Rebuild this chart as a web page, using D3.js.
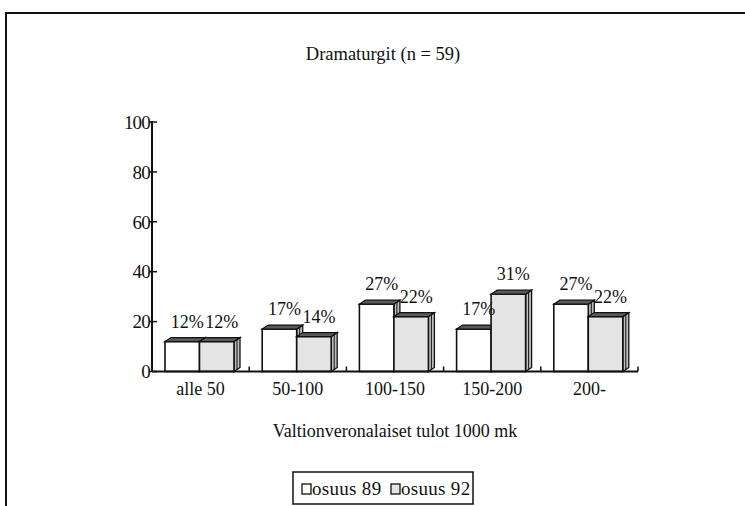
<!DOCTYPE html>
<html><head><meta charset="utf-8">
<script src="https://cdn.jsdelivr.net/npm/d3@7"></script>
<style>
html,body{margin:0;padding:0;background:#fff;}
</style></head>
<body>
<svg id="c" width="745" height="506"></svg>
<script>
const title = "Dramaturgit (n = 59)";
const categories = ["alle 50","50-100","100-150","150-200","200-"];
const osuus89 = [12,17,27,17,27];
const osuus92 = [12,14,22,31,22];
const seriesNames = ["osuus 89","osuus 92"];
const yTicks = [0,20,40,60,80,100];
const xTitle = "Valtionveronalaiset tulot 1000 mk";

const FONT = "'Liberation Serif', 'Times New Roman', serif";
const svg = d3.select("#c");
const ink = "#111";

// outer frame
svg.append("path").attr("d","M6,506 V13 H745").attr("fill","none").attr("stroke",ink).attr("stroke-width",2);

const x0 = 152, x1 = 638, yBase = 371.5, yTop = 122;
const x = d3.scaleBand().domain(categories).range([x0,x1]).paddingInner(0).paddingOuter(0);
const y = d3.scaleLinear().domain([0,100]).range([yBase,yTop]);

svg.append("text").attr("x",383).attr("y",60).attr("text-anchor","middle").style("font-family",FONT).style("font-size","18.5px").attr("fill",ink).text(title);

// y axis
const yAxis = d3.axisLeft(y).tickValues(yTicks).tickSize(0).tickPadding(2);
const gy = svg.append("g").attr("transform",`translate(${x0},0)`).call(yAxis);
gy.select(".domain").remove();
gy.attr("font-family",null).attr("font-size",null);
gy.selectAll("text").style("font-family",FONT).style("font-size","19px").attr("fill",ink).attr("dy","0.33em").style("letter-spacing","-0.8px");
svg.append("line").attr("x1",x0).attr("x2",x0).attr("y1",yTop-1).attr("y2",yBase).attr("stroke",ink).attr("stroke-width",2);
svg.selectAll(".yt").data(yTicks).enter().append("line")
  .attr("x1",x0-3).attr("x2",x0+5).attr("y1",d=>y(d)).attr("y2",d=>y(d)).attr("stroke",ink).attr("stroke-width",1.5);

// bars
const groupPad = 13, bw = 34.5, dx = 6, dy = 4;
const series = [osuus89, osuus92];
const fills = ["#ffffff","#e4e4e4"];
categories.forEach((c,i)=>{
  series.forEach((arr,s)=>{
    const v = arr[i];
    const bx = x(c) + groupPad + s*bw;
    const ty = y(v);
    const g = svg.append("g");
    g.append("path").attr("d",`M${bx+bw},${ty} L${bx+bw+dx},${ty-dy} L${bx+bw+dx},${yBase-dy} L${bx+bw},${yBase} Z`)
      .attr("fill","#bdbdbd").attr("stroke",ink).attr("stroke-width",1.3);
    g.append("line").attr("x1",bx+bw+dx/2).attr("x2",bx+bw+dx/2).attr("y1",ty-dy/2).attr("y2",yBase-dy/2).attr("stroke",ink).attr("stroke-width",1);
    g.append("rect").attr("x",bx).attr("y",ty).attr("width",bw).attr("height",yBase-ty)
      .attr("fill",fills[s]).attr("stroke",ink).attr("stroke-width",1.6);
    g.append("path").attr("d",`M${bx},${ty} L${bx+dx},${ty-dy} L${bx+bw+dx},${ty-dy} L${bx+bw},${ty} Z`)
      .attr("fill","#5a5a5a").attr("stroke",ink).attr("stroke-width",1.2);
  });
});
// labels
categories.forEach((c,i)=>{
  series.forEach((arr,s)=>{
    const v = arr[i];
    const bx = x(c) + groupPad + s*bw;
    svg.append("text").attr("x",bx+bw/2+5).attr("y",y(v)-14).attr("text-anchor","middle")
      .style("font-family",FONT).style("font-size","18px").attr("fill",ink).text(v+"%");
  });
});

// x axis
svg.append("line").attr("x1",x0).attr("x2",x1).attr("y1",yBase).attr("y2",yBase).attr("stroke",ink).attr("stroke-width",2);
categories.forEach(c=>{
  const tx = x(c)+x.bandwidth();
  svg.append("line").attr("x1",tx).attr("x2",tx).attr("y1",yBase).attr("y2",yBase-5).attr("stroke",ink).attr("stroke-width",1.5);
});
const xAxis = d3.axisBottom(x).tickSize(0).tickPadding(0);
const gx = svg.append("g").attr("transform",`translate(0,${yBase})`).call(xAxis);
gx.select(".domain").remove();
gx.attr("font-family",null).attr("font-size",null);
gx.selectAll("text").style("font-family",FONT).style("font-size","18px").attr("fill",ink).attr("dy","0").attr("y",23);

svg.append("text").attr("x",(x0+x1)/2).attr("y",437).attr("text-anchor","middle").style("font-family",FONT).style("font-size","18px").attr("fill",ink).text(xTitle);

// legend
const lg = svg.append("g");
lg.append("rect").attr("x",293).attr("y",472).attr("width",180).attr("height",32).attr("fill","#fff").attr("stroke",ink).attr("stroke-width",1.5);
const lx = [302, 391];
seriesNames.forEach((n,s)=>{
  lg.append("rect").attr("x",lx[s]).attr("y",484).attr("width",9).attr("height",10).attr("fill",fills[s]).attr("stroke",ink).attr("stroke-width",1.3);
  lg.append("text").attr("x",lx[s]+10).attr("y",495).style("font-family",FONT).style("font-size","19px").style("letter-spacing","0.3px").attr("fill",ink).text(n);
});
</script>
</body></html>
